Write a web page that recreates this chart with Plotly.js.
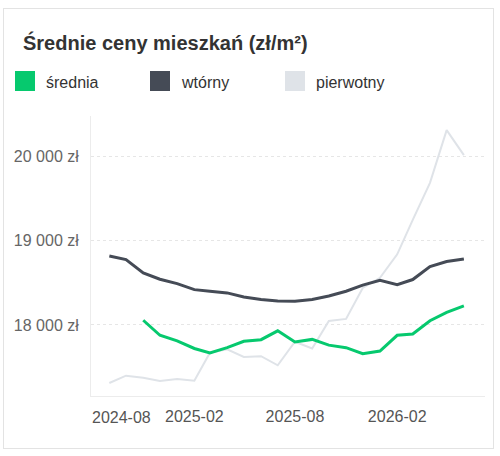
<!DOCTYPE html>
<html>
<head>
<meta charset="utf-8">
<script src="https://cdn.plot.ly/plotly-3.0.1.min.js"></script>
<style>
  html, body { margin: 0; padding: 0; background: #fff; }
  #wrap { position: relative; width: 500px; height: 456px; }
  #chart { width: 500px; height: 456px; }
  #card { position: absolute; left: 3px; top: 8px; width: 489px; height: 439px;
          border: 1px solid #e3e3e3; pointer-events: none; box-sizing: content-box; }
</style>
</head>
<body>
<div id="wrap">
  <div id="chart"></div>
  <div id="card"></div>
</div>
<script>
// ---- data ----
const months = [
  '2024-09-01','2024-10-01','2024-11-01','2024-12-01',
  '2025-01-01','2025-02-01','2025-03-01','2025-04-01','2025-05-01','2025-06-01',
  '2025-07-01','2025-08-01','2025-09-01','2025-10-01','2025-11-01','2025-12-01',
  '2026-01-01','2026-02-01','2026-03-01','2026-04-01','2026-05-01','2026-06-01'
];
const sredniaValues = [null, null, 18056, 17877, 17810, 17720, 17667, 17730, 17806, 17825,
  17930, 17798, 17828, 17760, 17730, 17659, 17690, 17877, 17893, 18050, 18150, 18226];
const wtornyValues = [18821, 18778, 18619, 18544, 18492, 18420, 18401, 18381, 18333, 18302,
  18286, 18282, 18302, 18345, 18401, 18473, 18530, 18480, 18540, 18695, 18755, 18785];
const pierwotnyValues = [17310, 17397, 17373, 17333, 17357, 17337, 17670, 17710, 17619, 17628,
  17520, 17800, 17720, 18048, 18072, 18440, 18560, 18840, 19250, 19690, 20317, 20020];
const seriesNames = ['średnia', 'wtórny', 'pierwotny'];
const seriesColors = ['#06c96e', '#454b56', '#dfe3e8'];
const tickDates = ['2024-08-01', '2025-02-01', '2025-08-01', '2026-02-01'];
const tickLabels = ['2024-08', '2025-02', '2025-08', '2026-02'];
const yTickValues = [18000, 19000, 20000];
const titleText = 'Średnie ceny mieszkań (zł/m²)';

// ---- helpers ----
function fmtZl(v) {
  return String(v).replace(/\B(?=(\d{3})+(?!\d))/g, '\u00a0') + '\u00a0zł';
}
const FONT = 'Liberation Sans, Arial, Helvetica, sans-serif';
const M = { l: 91, r: 15, t: 116, b: 60 };
const W = 500 - M.l - M.r, H = 456 - M.t - M.b;
const px = x => (x - M.l) / W;
const py = y => (456 - M.b - y) / H;

const seriesValues = [sredniaValues, wtornyValues, pierwotnyValues];
const widths = [3, 3, 2];

// draw order: pierwotny (bottom), wtórny, średnia (top)
const traces = [2, 1, 0].map(i => ({
  type: 'scatter', mode: 'lines',
  x: months, y: seriesValues[i], name: seriesNames[i],
  line: { color: seriesColors[i], width: widths[i], shape: 'linear' },
  connectgaps: false, showlegend: false, hoverinfo: 'skip'
}));

const shapes = [];
const annotations = [];
seriesNames.forEach((name, i) => {
  const x0 = 15 + i * 135;
  shapes.push({
    type: 'rect', xref: 'paper', yref: 'paper',
    x0: px(x0), x1: px(x0 + 20), y0: py(91), y1: py(71),
    fillcolor: seriesColors[i], line: { width: 0 }
  });
  annotations.push({
    xref: 'paper', yref: 'paper', x: px(x0 + 28.5), y: py(82),
    xanchor: 'left', yanchor: 'middle', showarrow: false,
    text: name, font: { family: FONT, size: 16, color: '#333' }
  });
});
// first x tick label, kept inside the plot's left edge
annotations.push({
  xref: 'x', yref: 'paper', x: tickDates[0], y: 0,
  xanchor: 'left', yanchor: 'top', xshift: -2, yshift: -11, showarrow: false,
  text: tickLabels[0], font: { family: FONT, size: 16, color: '#555' }
});

const layout = {
  width: 500, height: 456,
  margin: M,
  paper_bgcolor: 'rgba(0,0,0,0)', plot_bgcolor: '#fff',
  showlegend: false,
  title: {
    text: '<b>' + titleText + '</b>',
    xref: 'container', yref: 'container',
    x: 23 / 500, xanchor: 'left', y: 1 - 43 / 456, yanchor: 'middle',
    font: { family: FONT, size: 20, color: '#333' }
  },
  xaxis: {
    type: 'date',
    range: ['2024-07-30', '2026-07-09'],
    tickmode: 'array', tickvals: tickDates,
    ticktext: tickLabels.map((t, i) => i === 0 ? '' : t),
    showgrid: false, zeroline: false,
    showline: true, linecolor: '#ececec', linewidth: 1,
    ticks: '', ticklabelstandoff: 6,
    tickfont: { family: FONT, size: 16, color: '#555' }
  },
  yaxis: {
    range: [17155, 20485],
    tickmode: 'array', tickvals: yTickValues, ticktext: yTickValues.map(fmtZl),
    showgrid: true, gridcolor: '#e6e6e6', griddash: 'dot', gridwidth: 1,
    zeroline: false, showline: true, linecolor: '#ececec', linewidth: 1,
    ticks: '', ticklabelstandoff: 8,
    tickfont: { family: FONT, size: 16, color: '#666' }
  },
  shapes: shapes,
  annotations: annotations
};

Plotly.newPlot('chart', traces, layout, { displayModeBar: false, staticPlot: true });
</script>
</body>
</html>
